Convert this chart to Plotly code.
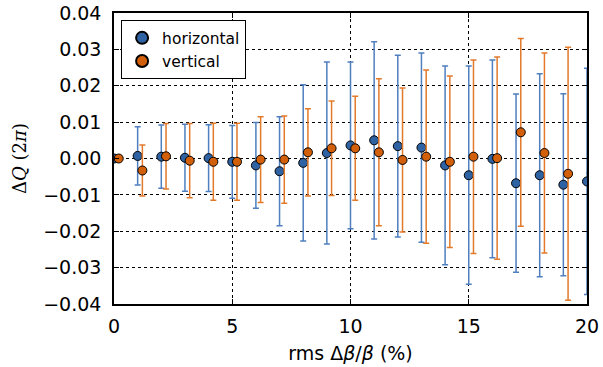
import plotly.graph_objects as go

steps = list(range(21))
h_vals = [0.0, 0.0007, 0.0005, 0.0002, 0.0001, -0.0009, -0.0019, -0.0035, -0.0012, 0.0015,
          0.0036, 0.0050, 0.0034, 0.0030, -0.0019, -0.0046, -0.0001, -0.0068, -0.0046, -0.0072, -0.0063]
h_err = [0.0, 0.0080, 0.0087, 0.0092, 0.0092, 0.0100, 0.0118, 0.0150, 0.0215, 0.0250,
         0.0229, 0.0271, 0.0250, 0.0260, 0.0273, 0.0300, 0.0272, 0.0245, 0.0279, 0.0250, 0.0311]
v_vals = [0.0, -0.0033, 0.0006, -0.0006, -0.0009, -0.0009, -0.0003, -0.0003, 0.0017, 0.0028,
          0.0028, 0.0017, -0.0004, 0.0005, -0.0009, 0.0005, 0.0001, 0.0072, 0.0015, -0.0042, -0.0040]
v_err = [0.0, 0.0070, 0.0090, 0.0102, 0.0106, 0.0106, 0.0118, 0.0120, 0.0120, 0.0130,
         0.0143, 0.0202, 0.0198, 0.0238, 0.0236, 0.0266, 0.0278, 0.0258, 0.0275, 0.0348, 0.0330]
v_offset = 0.2
v_x = [s + v_offset for s in steps]

x_ticks = [0, 5, 10, 15, 20]
y_ticks = [-0.04, -0.03, -0.02, -0.01, 0.0, 0.01, 0.02, 0.03, 0.04]

blue = "#2f62a3"
orange = "#d2600a"
blue_bar = "#4f7fbf"
orange_bar = "#e27a2c"

fig = go.Figure()
fig.add_trace(go.Scatter(
    x=steps, y=h_vals, mode="markers", name="horizontal",
    marker=dict(color=blue, size=9, line=dict(color="black", width=1)),
    error_y=dict(type="data", array=h_err, visible=True, color=blue_bar, thickness=1.5, width=3),
))
fig.add_trace(go.Scatter(
    x=v_x, y=v_vals, mode="markers", name="vertical",
    marker=dict(color=orange, size=9, line=dict(color="black", width=1)),
    error_y=dict(type="data", array=v_err, visible=True, color=orange_bar, thickness=1.5, width=3),
))

axis_common = dict(
    showline=True, linecolor="black", linewidth=1.5, mirror="allticks",
    ticks="inside", ticklen=5, tickcolor="black", tickwidth=1,
    showgrid=True, gridcolor="black", griddash="dot", gridwidth=1,
    zeroline=False, automargin=False, ticklabeloverflow="allow",
    tickfont=dict(family="DejaVu Sans", size=19, color="black"),
)

fig.update_layout(
    width=603, height=367,
    margin=dict(l=114, r=16, t=13, b=63),
    paper_bgcolor="white", plot_bgcolor="white",
    font=dict(family="DejaVu Sans", color="black"),
    showlegend=True,
    legend=dict(
        x=0.015, y=0.975, xanchor="left", yanchor="top",
        bordercolor="black", borderwidth=1, bgcolor="white",
        font=dict(family="DejaVu Sans", size=15.5, color="black"),
        itemsizing="constant",
    ),
    xaxis=dict(range=[0, 20], tickvals=x_ticks, ticktext=[str(t) for t in x_ticks],
               ticklabelstandoff=4,
               title=dict(text="rms Δ<i>β</i>/<i>β</i> (%)", font=dict(family="DejaVu Sans", size=19), standoff=11),
               **axis_common),
    yaxis=dict(range=[-0.04, 0.04], tickvals=y_ticks, tickformat=".2f",
               ticklabelstandoff=7,
               title=dict(text="Δ<i>Q</i> (2<i>π</i>)", font=dict(family="DejaVu Serif", size=18), standoff=12),
               **axis_common),
)

# remove the browser's default 8px body margin so the figure fills the window
fig.write_html("out.html", config={"displayModeBar": False},
               post_script="document.body.style.margin='0px';")
